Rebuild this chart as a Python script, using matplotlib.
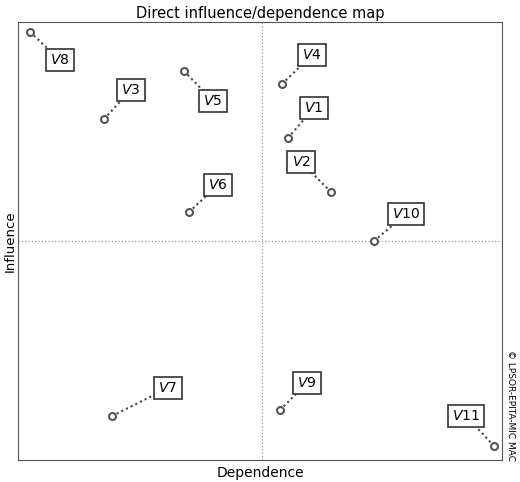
import matplotlib.pyplot as plt

# variables, point positions (dependence, influence) and label positions
names = ["V8", "V3", "V5", "V6", "V7", "V4", "V1", "V2", "V10", "V9", "V11"]
dep = [30, 104, 184, 189, 112, 282, 288, 331, 374, 280, 494]
inf = [32, 119, 71, 212, 416, 84, 138, 192, 241, 410, 446]
lab_x = [60, 131, 213, 218, 168, 312, 314, 301, 406, 307, 466]
lab_y = [60, 90, 101, 185, 388, 55, 108, 162, 214, 383, 416]

fig = plt.figure(figsize=(5.2, 4.82), dpi=100)
ax = fig.add_axes([18 / 520, 22 / 482, 484 / 520, 438 / 482])
ax.set_xlim(18, 502)
ax.set_ylim(460, 22)
ax.set_xticks([])
ax.set_yticks([])
for s in ax.spines.values():
    s.set_color("#555555")
    s.set_linewidth(0.8)

ax.axvline(262, color="#888888", lw=0.8, ls=(0, (1, 2)))
ax.axhline(241, color="#888888", lw=0.8, ls=(0, (1, 2)))

for n, x, y, lx, ly in zip(names, dep, inf, lab_x, lab_y):
    ax.plot([x, lx], [y, ly], color="#444444", lw=1.5, ls=(0, (1, 1.5)), zorder=2)
    ax.plot(x, y, "o", ms=5, mfc="white", mec="#555555", mew=1.5, zorder=3)
    ax.text(lx, ly, "$V$" + n[1:], ha="center", va="center", fontsize=10,
            bbox=dict(boxstyle="square,pad=0.3", fc="white", ec="#333333", lw=1.2),
            zorder=4)

ax.set_title("Direct influence/dependence map", fontsize=10.5, pad=3)
ax.set_xlabel("Dependence", fontsize=10, labelpad=4)
ax.set_ylabel("Influence", fontsize=9.5, labelpad=1)
fig.text(511 / 520, 1 - 405 / 482, "© LPSOR-EPITA-MIC MAC", rotation=270,
         ha="center", va="center", fontsize=6.5)

fig.savefig("out.png", dpi=100)
